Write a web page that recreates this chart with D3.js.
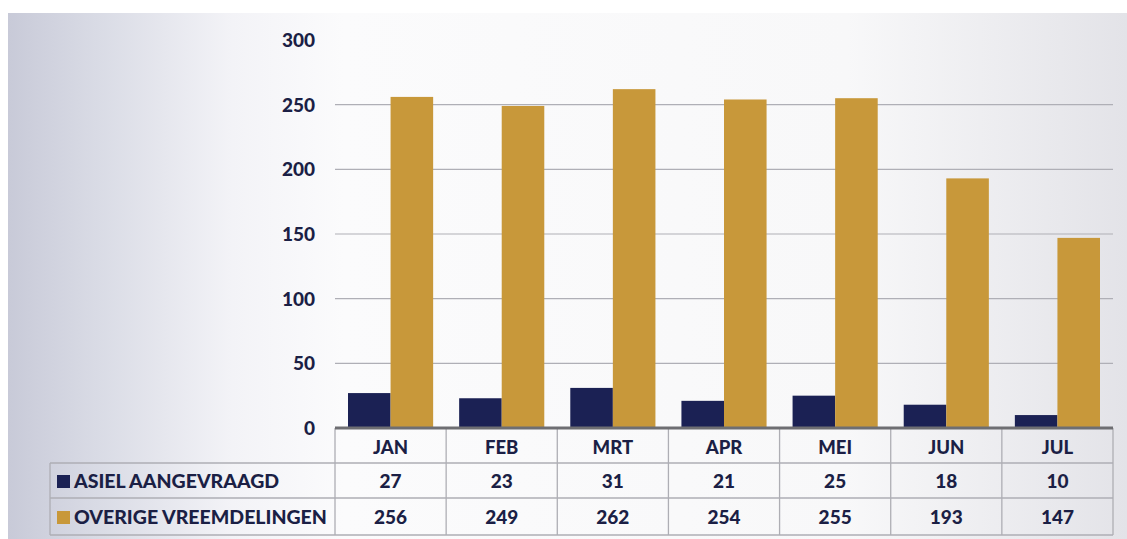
<!DOCTYPE html>
<html>
<head>
<meta charset="utf-8">
<script src="https://cdn.jsdelivr.net/npm/d3@7"></script>
<style>
  html, body { margin: 0; padding: 0; background: #ffffff; }
  svg { display: block; }
  text { font-family: Lato, "Open Sans", sans-serif; font-weight: 900; fill: #1b1f45; }
</style>
</head>
<body>
<svg id="chart" width="1127" height="539"></svg>
<script>
// Monthly counts, two series
const months = ["JAN", "FEB", "MRT", "APR", "MEI", "JUN", "JUL"];
const seriesNames = ["ASIEL AANGEVRAAGD", "OVERIGE VREEMDELINGEN"];
const asielValues = [27, 23, 31, 21, 25, 18, 10];
const overigeValues = [256, 249, 262, 254, 255, 193, 147];
const yTicks = [0, 50, 100, 150, 200, 250, 300];
const seriesColors = ["#1b2154", "#c8983a"];

const svg = d3.select("#chart");
const W = 1127, H = 539;

// Panel background: lavender-grey on the left fading to white, light grey on the right
const defs = svg.append("defs");
const grad = defs.append("linearGradient").attr("id", "panelBg")
  .attr("x1", "0").attr("x2", "1").attr("y1", "0").attr("y2", "0");
[[0, "#c8cad8"], [0.08, "#d9dbe5"], [0.2, "#f3f3f7"], [0.3, "#fbfbfc"], [0.75, "#f8f8f9"], [1, "#e3e3e8"]]
  .forEach(([o, c]) => grad.append("stop").attr("offset", o).attr("stop-color", c));
svg.append("rect").attr("x", 8).attr("y", 13).attr("width", W - 8).attr("height", H - 13)
  .attr("fill", "url(#panelBg)");

const plotLeft = 335, plotRight = 1113;
const baseY = 428;

const x = d3.scaleBand().domain(months).range([plotLeft, plotRight])
  .paddingInner(0.234).paddingOuter(0.117);
const xs = d3.scaleBand().domain(seriesNames).range([0, x.bandwidth()]);
const y = d3.scaleLinear().domain([0, 300]).range([baseY, 40]);

// Horizontal gridlines
svg.append("g").selectAll("line").data(yTicks.filter(t => t > 0 && t < 300)).join("line")
  .attr("x1", plotLeft).attr("x2", plotRight)
  .attr("y1", d => y(d)).attr("y2", d => y(d))
  .attr("stroke", "#afafb6").attr("stroke-width", 1.2);

// Y-axis tick labels
const yAxis = d3.axisLeft(y).tickValues(yTicks).tickSize(0).tickPadding(0);
const yg = svg.append("g").attr("transform", "translate(315,0)").call(yAxis);
yg.select(".domain").remove();
yg.selectAll("text").attr("font-size", 19).attr("dy", "0.35em")
  .style("font-family", "Lato, 'Open Sans', sans-serif").style("font-weight", 900).attr("fill", "#1b1f45");

// Bars
const rows = months.map((m, i) => ({ month: m, values: [asielValues[i], overigeValues[i]] }));
const groups = svg.append("g").selectAll("g").data(rows).join("g")
  .attr("transform", d => `translate(${x(d.month)},0)`);
groups.selectAll("rect").data(d => d.values.map((v, k) => ({ name: seriesNames[k], v, k }))).join("rect")
  .attr("x", d => xs(d.name))
  .attr("width", xs.bandwidth())
  .attr("y", d => y(d.v))
  .attr("height", d => baseY - y(d.v))
  .attr("fill", d => seriesColors[d.k]);

// Data table under the plot
const tableLeft = 50;
const rowY = [baseY, 463, 498, 535];
const colEdges = months.map(m => x(m) - x.step() * x.paddingOuter()).concat([plotRight]);
const tableStroke = "#aeaeb4";
const tg = svg.append("g");

// horizontal rules
[1, 2, 3].forEach(r => {
  tg.append("line").attr("x1", tableLeft).attr("x2", plotRight).attr("y1", rowY[r]).attr("y2", rowY[r])
    .attr("stroke", tableStroke).attr("stroke-width", 1.3);
});
// vertical rules
tg.append("line").attr("x1", tableLeft).attr("x2", tableLeft).attr("y1", rowY[1]).attr("y2", rowY[3])
  .attr("stroke", tableStroke).attr("stroke-width", 1.3);
tg.selectAll("line.col").data(colEdges).join("line").attr("class", "col")
  .attr("x1", d => d).attr("x2", d => d).attr("y1", rowY[0]).attr("y2", rowY[3])
  .attr("stroke", tableStroke).attr("stroke-width", 1.3);

// category axis line
svg.append("line").attr("x1", plotLeft).attr("x2", plotRight).attr("y1", baseY).attr("y2", baseY)
  .attr("stroke", "#6e6e72").attr("stroke-width", 3);

// header cells (month names)
tg.selectAll("text.month").data(months).join("text").attr("class", "month")
  .attr("x", d => x(d) + x.bandwidth() / 2).attr("y", (rowY[0] + rowY[1]) / 2 + 2)
  .attr("text-anchor", "middle").attr("dy", "0.35em").attr("font-size", 18.5).text(d => d);

// value rows
const tableSeries = [asielValues, overigeValues];
tableSeries.forEach((vals, k) => {
  const cy = (rowY[k + 1] + rowY[k + 2]) / 2 + 1;
  tg.append("rect").attr("x", 57).attr("y", cy - 6.5).attr("width", 13).attr("height", 13)
    .attr("fill", seriesColors[k]);
  tg.append("text").attr("x", 74).attr("y", cy).attr("dy", "0.35em").attr("font-size", 19.5)
    .text(seriesNames[k]);
  tg.selectAll("text.v" + k).data(vals).join("text").attr("class", "v" + k)
    .attr("x", (d, i) => x(months[i]) + x.bandwidth() / 2).attr("y", cy)
    .attr("text-anchor", "middle").attr("dy", "0.35em").attr("font-size", 19).text(d => d);
});
</script>
</body>
</html>
